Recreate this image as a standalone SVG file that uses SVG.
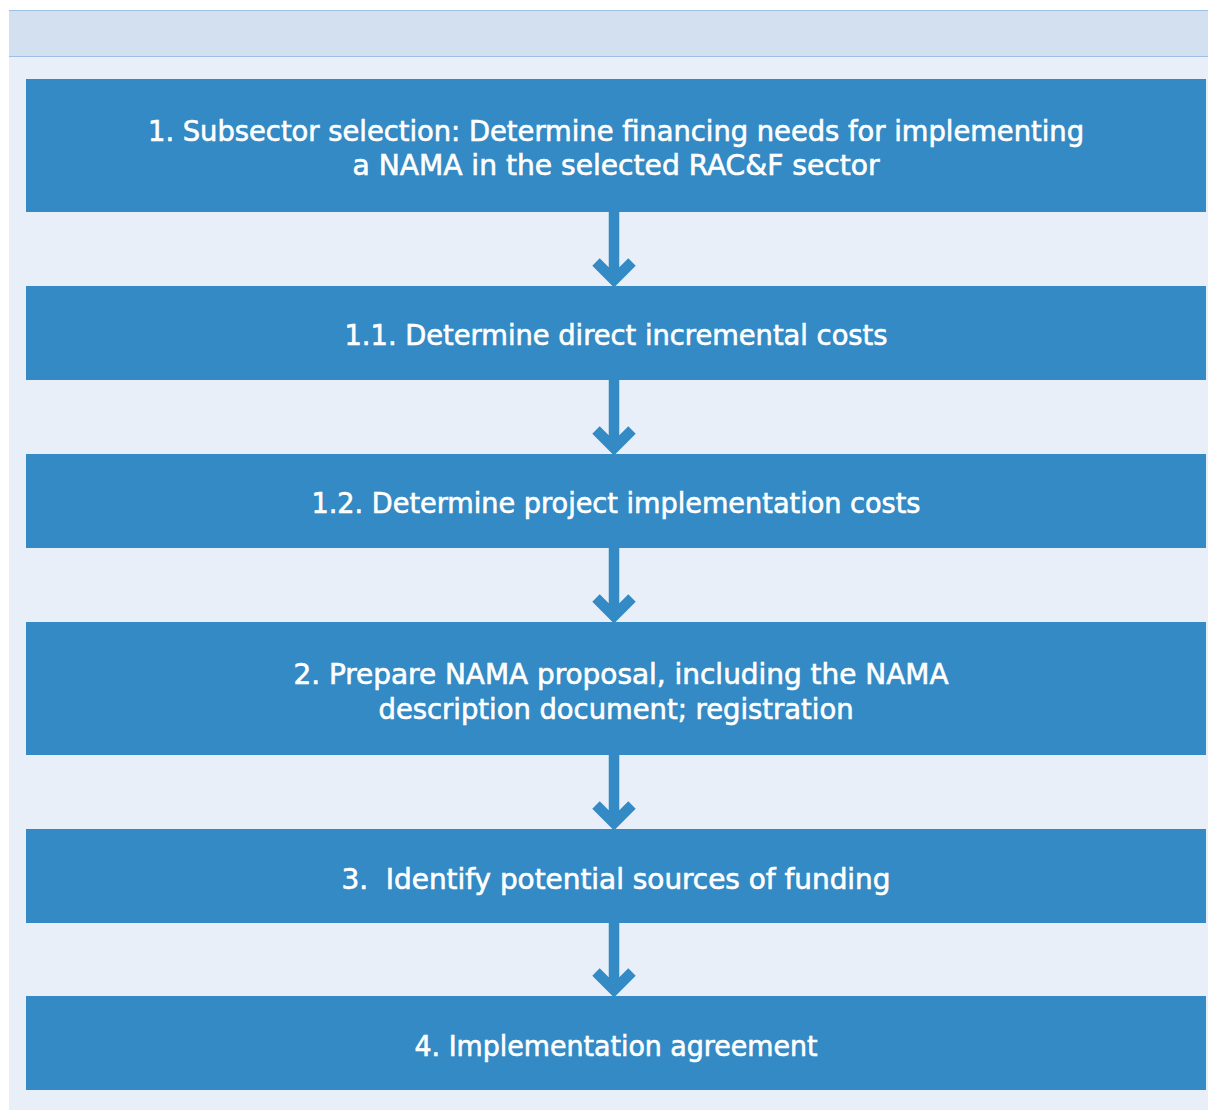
<svg xmlns="http://www.w3.org/2000/svg" width="1208" height="1110" viewBox="0 0 1208 1110">
<style>
.box{fill:#338ac4}
.t{fill:#ffffff;stroke:#ffffff;stroke-width:0.6;font-family:"DejaVu Sans Condensed","DejaVu Sans",sans-serif;font-size:29px;text-anchor:middle;font-weight:normal}
.sh{stroke:#338ac4;stroke-width:10.5;fill:none}
</style>
<rect x="0" y="0" width="1208" height="1110" fill="#ffffff"/>
<rect x="9" y="10" width="1199" height="47" fill="#d3e0f0"/>
<rect x="9" y="57" width="1199" height="1053" fill="#e9eff8"/>
<line x1="9" y1="10.5" x2="1208" y2="10.5" stroke="#9dbfe3" stroke-width="1.2"/>
<line x1="9" y1="56.5" x2="1208" y2="56.5" stroke="#9dbfe3" stroke-width="1.2"/>
<g id="connectors">
<path class="sh" d="M614 212V280M596 262L614 280L632 262"/>
<path class="sh" d="M614 380V448M596 430L614 448L632 430"/>
<path class="sh" d="M614 548V616M596 598L614 616L632 598"/>
<path class="sh" d="M614 755V823M596 805L614 823L632 805"/>
<path class="sh" d="M614 923V990M596 972L614 990L632 972"/>
</g>
<g id="n1"><rect class="box" x="26" y="79" width="1180" height="133"/>
<text class="t" x="616" y="141" textLength="936" lengthAdjust="spacingAndGlyphs">1. Subsector selection: Determine financing needs for implementing</text>
<text class="t" x="616" y="175" textLength="527" lengthAdjust="spacingAndGlyphs">a NAMA in the selected RAC&amp;F sector</text></g>
<g id="n2"><rect class="box" x="26" y="286" width="1180" height="94"/>
<text class="t" x="616" y="345" textLength="543" lengthAdjust="spacingAndGlyphs">1.1. Determine direct incremental costs</text></g>
<g id="n3"><rect class="box" x="26" y="454" width="1180" height="94"/>
<text class="t" x="616" y="513" textLength="609" lengthAdjust="spacingAndGlyphs">1.2. Determine project implementation costs</text></g>
<g id="n4"><rect class="box" x="26" y="622" width="1180" height="133"/>
<text class="t" x="621" y="684" textLength="655" lengthAdjust="spacingAndGlyphs">2. Prepare NAMA proposal, including the NAMA</text>
<text class="t" x="616" y="719" textLength="475" lengthAdjust="spacingAndGlyphs">description document; registration</text></g>
<g id="n5"><rect class="box" x="26" y="829" width="1180" height="94"/>
<text class="t" x="616" y="889" textLength="549" lengthAdjust="spacingAndGlyphs" xml:space="preserve">3.  Identify potential sources of funding</text></g>
<g id="n6"><rect class="box" x="26" y="996" width="1180" height="94"/>
<text class="t" x="616" y="1056" textLength="403" lengthAdjust="spacingAndGlyphs">4. Implementation agreement</text></g>
</svg>
